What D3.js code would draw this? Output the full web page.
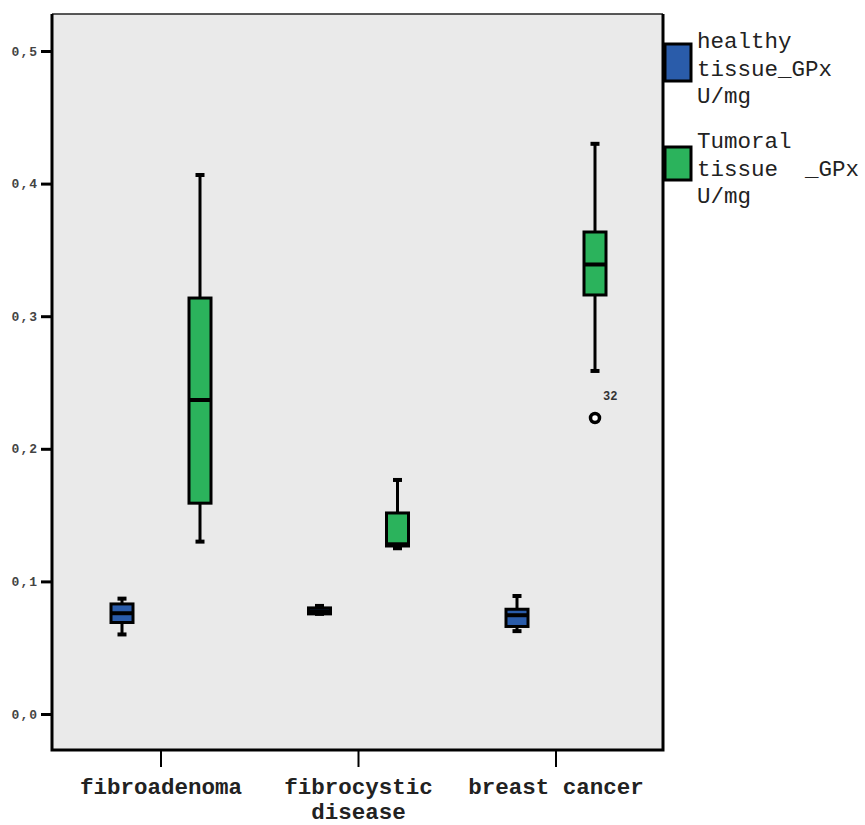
<!DOCTYPE html>
<html>
<head>
<meta charset="utf-8">
<script src="https://cdn.jsdelivr.net/npm/d3@7"></script>
<style>
  body { margin: 0; background: #fff; }
  text { font-family: "Liberation Mono", "DejaVu Sans Mono", monospace; }
</style>
</head>
<body>
<svg id="svg" width="865" height="825"></svg>
<script>
// data
const categories = ["fibroadenoma", "fibrocystic disease", "breast cancer"];
const categoryLines = [["fibroadenoma"], ["fibrocystic", "disease"], ["breast cancer"]];
const series = ["healthy", "tumoral"];
const legendLines = [["healthy", "tissue_GPx", "U/mg"], ["Tumoral", "tissue  _GPx", "U/mg"]];
const yTicks = [0, 0.1, 0.2, 0.3, 0.4, 0.5];

// per category: fibroadenoma, fibrocystic, breast cancer
const healthyLow    = [0.060, 0.0755, 0.0625];
const healthyQ1     = [0.069, 0.0755, 0.066];
const healthyMedian = [0.076, 0.0775, 0.0745];
const healthyQ3     = [0.083, 0.0800, 0.079];
const healthyHigh   = [0.087, 0.0815, 0.089];

const tumoralLow    = [0.130, 0.125, 0.2587];
const tumoralQ1     = [0.159, 0.1267, 0.316];
const tumoralMedian = [0.2368, 0.128, 0.339];
const tumoralQ3     = [0.3137, 0.1516, 0.3635];
const tumoralHigh   = [0.4065, 0.1765, 0.430];

const outliers = [{cat: "breast cancer", s: "tumoral", value: 0.2232, label: "32"}];

const colors = {healthy: "#2a5caa", tumoral: "#2bb35c"};

const boxes = [];
categories.forEach((c, i) => {
    boxes.push({cat: c, s: "healthy", lo: healthyLow[i], q1: healthyQ1[i], med: healthyMedian[i], q3: healthyQ3[i], hi: healthyHigh[i]});
    boxes.push({cat: c, s: "tumoral", lo: tumoralLow[i], q1: tumoralQ1[i], med: tumoralMedian[i], q3: tumoralQ3[i], hi: tumoralHigh[i]});
});

const svg = d3.select("svg#svg");
const plot = {left: 52, right: 663, top: 14, bottom: 750};

const y = d3.scaleLinear().domain([0, 0.5]).range([714, 51]);
const x = d3.scaleBand().domain(categories).range([62.25, 654.75]);
const xs = d3.scalePoint().domain(series).range([-39, 39]);
const cx = d => x(d.cat) + x.bandwidth() / 2 + xs(d.s);
const boxW = 22, capW = 9;

// background
svg.append("rect")
    .attr("x", plot.left).attr("y", plot.top)
    .attr("width", plot.right - plot.left).attr("height", plot.bottom - plot.top)
    .attr("fill", "#eaeaea").attr("stroke", "none");
svg.append("line")
    .attr("x1", plot.left).attr("x2", plot.right).attr("y1", plot.top).attr("y2", plot.top)
    .attr("stroke", "#222").attr("stroke-width", 1.5);
svg.append("path")
    .attr("d", `M${plot.left},${plot.top} V${plot.bottom} H${plot.right} V${plot.top}`)
    .attr("fill", "none").attr("stroke", "#000").attr("stroke-width", 3);

// y axis
const yAxis = d3.axisLeft(y).tickValues(yTicks).tickSize(10).tickPadding(3)
    .tickFormat(d => d3.format(".1f")(d).replace(".", ","));
const ya = svg.append("g").attr("transform", `translate(${plot.left - 1},0)`).call(yAxis);
ya.select(".domain").remove();
ya.selectAll(".tick line").attr("stroke", "#000").attr("stroke-width", 3);
ya.selectAll(".tick text")
    .attr("font-family", "Liberation Mono").attr("font-size", 13).attr("font-weight", "bold")
    .attr("letter-spacing", 1).attr("fill", "#444");

// x axis
const xAxis = d3.axisBottom(x).tickSize(17).tickFormat("");
const xa = svg.append("g").attr("transform", `translate(0,${plot.bottom})`).call(xAxis);
xa.select(".domain").remove();
xa.selectAll(".tick line").attr("stroke", "#000").attr("stroke-width", 2);
xa.selectAll(".tick").each(function(d, i) {
    const t = d3.select(this).append("text")
        .attr("text-anchor", "middle").attr("font-family", "Liberation Mono")
        .attr("font-size", 22.5).attr("font-weight", "bold").attr("fill", "#222");
    categoryLines[i].forEach((ln, j) => {
        t.append("tspan").attr("x", 0).attr("y", 44 + j * 25).text(ln);
    });
});

// boxes
const g = svg.append("g").selectAll("g.box").data(boxes).enter().append("g").attr("class", "box");
g.append("line")
    .attr("x1", cx).attr("x2", cx).attr("y1", d => y(d.hi)).attr("y2", d => y(d.lo))
    .attr("stroke", "#000").attr("stroke-width", 3);
g.append("line")
    .attr("x1", d => cx(d) - capW / 2).attr("x2", d => cx(d) + capW / 2)
    .attr("y1", d => y(d.hi)).attr("y2", d => y(d.hi))
    .attr("stroke", "#000").attr("stroke-width", 4);
g.append("line")
    .attr("x1", d => cx(d) - capW / 2).attr("x2", d => cx(d) + capW / 2)
    .attr("y1", d => y(d.lo)).attr("y2", d => y(d.lo))
    .attr("stroke", "#000").attr("stroke-width", 4);
g.append("rect")
    .attr("x", d => cx(d) - boxW / 2).attr("width", boxW)
    .attr("y", d => y(d.q3)).attr("height", d => y(d.q1) - y(d.q3))
    .attr("fill", d => colors[d.s]).attr("stroke", "#000").attr("stroke-width", 3);
g.append("line")
    .attr("x1", d => cx(d) - boxW / 2).attr("x2", d => cx(d) + boxW / 2)
    .attr("y1", d => y(d.med)).attr("y2", d => y(d.med))
    .attr("stroke", "#000").attr("stroke-width", 4);

// outliers
const og = svg.append("g").selectAll("g.out").data(outliers).enter().append("g");
og.append("circle")
    .attr("cx", cx).attr("cy", d => y(d.value)).attr("r", 4.5)
    .attr("fill", "#fff").attr("stroke", "#000").attr("stroke-width", 3.5);
og.append("text")
    .attr("x", d => cx(d) + 8).attr("y", d => y(d.value) - 18)
    .attr("font-family", "Liberation Mono").attr("font-size", 12).attr("font-weight", "bold")
    .attr("fill", "#333").text(d => d.label);

// legend
const swatchY = [[44, 81], [147, 180]];
const textTop = [48, 148];
const lg = svg.append("g").selectAll("g.leg").data(series).enter().append("g");
lg.append("rect")
    .attr("x", 665).attr("width", 26)
    .attr("y", (d, i) => swatchY[i][0]).attr("height", (d, i) => swatchY[i][1] - swatchY[i][0])
    .attr("fill", d => colors[d]).attr("stroke", "#000").attr("stroke-width", 3);
lg.each(function(d, i) {
    const t = d3.select(this).append("text")
        .attr("font-family", "Liberation Mono").attr("font-size", 22.5)
        .attr("fill", "#222").style("white-space", "pre");
    legendLines[i].forEach((ln, j) => {
        t.append("tspan").attr("x", 697).attr("y", textTop[i] + j * 27.5).text(ln);
    });
});
</script>
</body>
</html>
